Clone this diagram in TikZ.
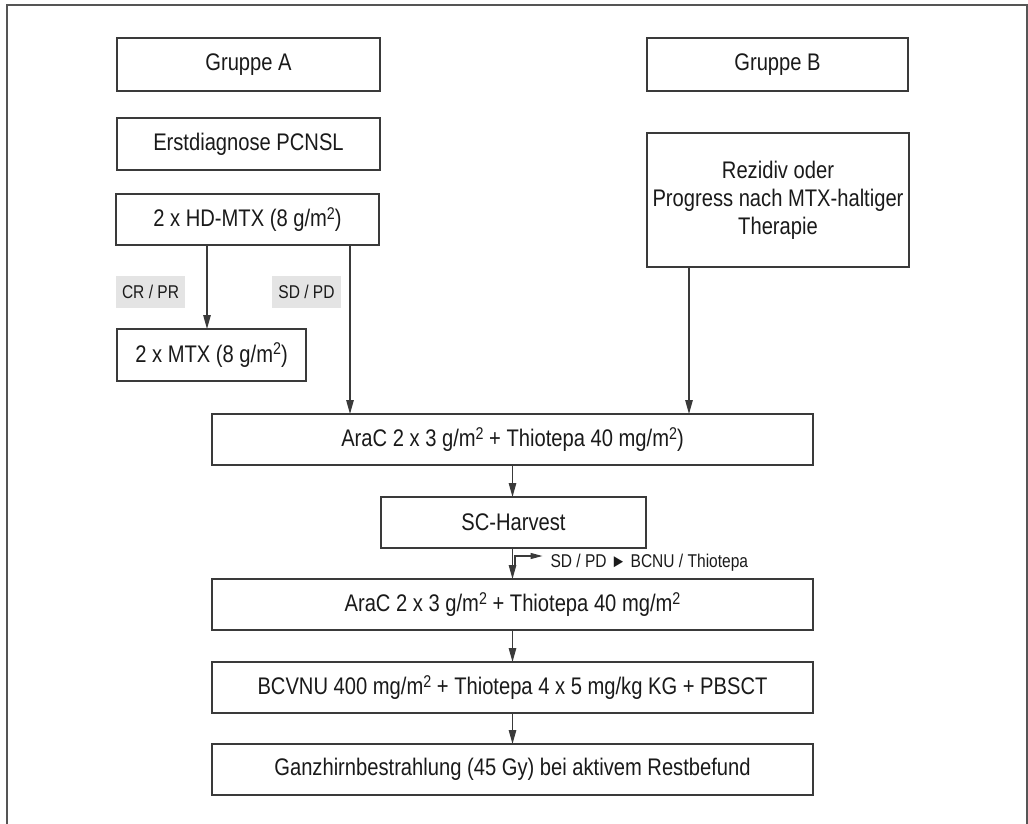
\documentclass[tikz,border=0pt]{standalone}
\usepackage{fontspec}
\setmainfont[FakeStretch=0.84]{Liberation Sans}
\usetikzlibrary{arrows.meta}
\definecolor{ink}{HTML}{1A1A1A}
\definecolor{rule}{HTML}{3A3A3A}
\definecolor{frame}{HTML}{555555}
\definecolor{tag}{HTML}{E4E4E4}
\newcommand{\sq}{\raisebox{0.32em}{\fontsize{17}{17}\selectfont 2}}
\begin{document}
\begin{tikzpicture}[x=1pt,y=-1pt,
  every node/.style={inner sep=0pt,outer sep=0pt,text=ink},
  stepbox/.style={draw=rule,line width=1.5pt,fill=white,align=center,
    font=\fontsize{24}{28}\selectfont},
  tagbox/.style={fill=tag,minimum width=69pt,minimum height=32pt,
    font=\fontsize{18.5}{20}\selectfont},
  arr/.style={draw=rule,line width=1.2pt,-{Triangle[length=14pt,width=7.5pt]}},
  note/.style={font=\fontsize{18.5}{22}\selectfont,anchor=west}]
\useasboundingbox (0,0) rectangle (1028,824);
% open frame around the chart
\draw[frame,line width=2pt] (7,830) -- (7,5) -- (1027,5) -- (1027,830);

% group A column
\node[stepbox,minimum width=263pt,minimum height=53pt] (gA) at (248.5,64.5) {Gruppe A};
\node[stepbox,minimum width=263pt,minimum height=52pt] (erst) at (248.5,144) {Erstdiagnose PCNSL};
\node[stepbox,minimum width=263pt,minimum height=51pt] (hd) at (247.5,219.5) {2 x HD-MTX (8 g/m\sq)};
\node[tagbox] (crpr) at (150.5,292) {CR / PR};
\node[tagbox] (sdpd) at (306.5,292) {SD / PD};
\node[stepbox,minimum width=189pt,minimum height=52pt] (mtx) at (211.5,355) {2 x MTX (8 g/m\sq)};

% group B column
\node[stepbox,minimum width=261pt,minimum height=53pt] (gB) at (777.5,64.5) {Gruppe B};
\node[stepbox,minimum width=262pt,minimum height=134pt] (rez) at (778,200)
  {Rezidiv oder\\Progress nach MTX-haltiger\\Therapie};

% common treatment sequence
\node[stepbox,minimum width=601pt,minimum height=51pt] (ara1) at (512.5,439.5) {AraC 2 x 3 g/m\sq{} + Thiotepa 40 mg/m\sq)};
\node[stepbox,minimum width=265pt,minimum height=51pt] (sc) at (513.5,522.5) {SC-Harvest};
\node[stepbox,minimum width=601pt,minimum height=51pt] (ara2) at (512.5,604.5) {AraC 2 x 3 g/m\sq{} + Thiotepa 40 mg/m\sq};
\node[stepbox,minimum width=601pt,minimum height=51pt] (bcv) at (512.5,687.5) {BCVNU 400 mg/m\sq{} + Thiotepa 4 x 5 mg/kg KG + PBSCT};
\node[stepbox,minimum width=601pt,minimum height=51pt] (gz) at (512.5,769.5) {Ganzhirnbestrahlung (45 Gy) bei aktivem Restbefund};

% connectors
\draw[arr] ([xshift=-4.5pt]mtx.north |- hd.south) -- ([xshift=-4.5pt]mtx.north);
\draw[arr] ([xshift=-29pt]hd.south east) coordinate (hdr) -- (hdr |- ara1.north);
\draw[arr] ([xshift=42pt]rez.south west) coordinate (rzb) -- (rzb |- ara1.north);
\draw[arr] (ara1.south) -- (ara1.south |- sc.north);
\draw[arr] ([xshift=-1pt]sc.south) coordinate (scb) -- (scb |- ara2.north);
\draw[arr] (ara2.south) -- (ara2.south |- bcv.north);
\draw[arr] (bcv.south) -- (bcv.south |- gz.north);

% side branch after harvest
\coordinate (br) at ([xshift=2.5pt,yshift=-19pt]scb);
\coordinate (brend) at ([xshift=30pt,yshift=-8pt]scb);
\draw[draw=rule,line width=1.2pt,-{Triangle[length=12pt,width=6pt]}] (br) |- (brend);
\node[note] (alt) at ([xshift=8pt,yshift=-7pt]brend) {SD / PD ► BCNU / Thiotepa};
\end{tikzpicture}
\end{document}
